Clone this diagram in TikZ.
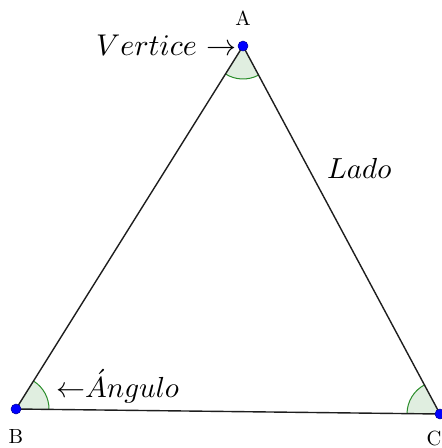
\documentclass[tikz,border=0pt]{standalone}
\usepackage{fix-cm}
\usetikzlibrary{angles}
\definecolor{angfill}{RGB}{224,238,224}
\definecolor{angline}{RGB}{40,140,40}
\definecolor{sideline}{RGB}{30,30,30}
\begin{document}
\begin{tikzpicture}[x=1pt,y=1pt,
  side/.style={draw=sideline,line width=1.4pt},
  ang/.style={draw=angline,line width=1pt,fill=angfill,angle radius=33pt},
  pt/.style={circle,fill=blue,draw=blue!60!black,line width=0.5pt,inner sep=0pt,minimum size=10pt},
  lbl/.style={inner sep=0pt},
  big/.style={inner sep=0pt}]
\useasboundingbox (0,0) rectangle (442,-448);
\coordinate (A) at (243,-46);
\coordinate (B) at (16,-409);
\coordinate (C) at (440,-414);
\pic[ang] {angle = B--A--C};
\pic[ang] {angle = C--B--A};
\pic[ang] {angle = A--C--B};
\draw[side] (A) -- (B) -- (C) -- cycle;
\node[pt] (pA) at (A) {};
\node[pt] (pB) at (B) {};
\node[pt] (pC) at (C) {};
\node[lbl] (lA) at (243,-18) {\scalebox{2.05}{A}};
\node[lbl] (lB) at (16,-436) {\scalebox{2.05}{B}};
\node[lbl] (lC) at (434,-438) {\scalebox{2.05}{C}};
\node[big,anchor=base east] (vert) at (237,-55) {\scalebox{3}{$Vertice\mkern6mu\mathord{\rightarrow}$}};
\node[big,anchor=base west] (lado) at (327,-178) {\scalebox{2.9}{$Lado$}};
\node[big,anchor=base west] (angulo) at (56,-397) {\scalebox{2.9}{$\mathord{\leftarrow}\acute{A}ngulo$}};
\end{tikzpicture}
\end{document}
